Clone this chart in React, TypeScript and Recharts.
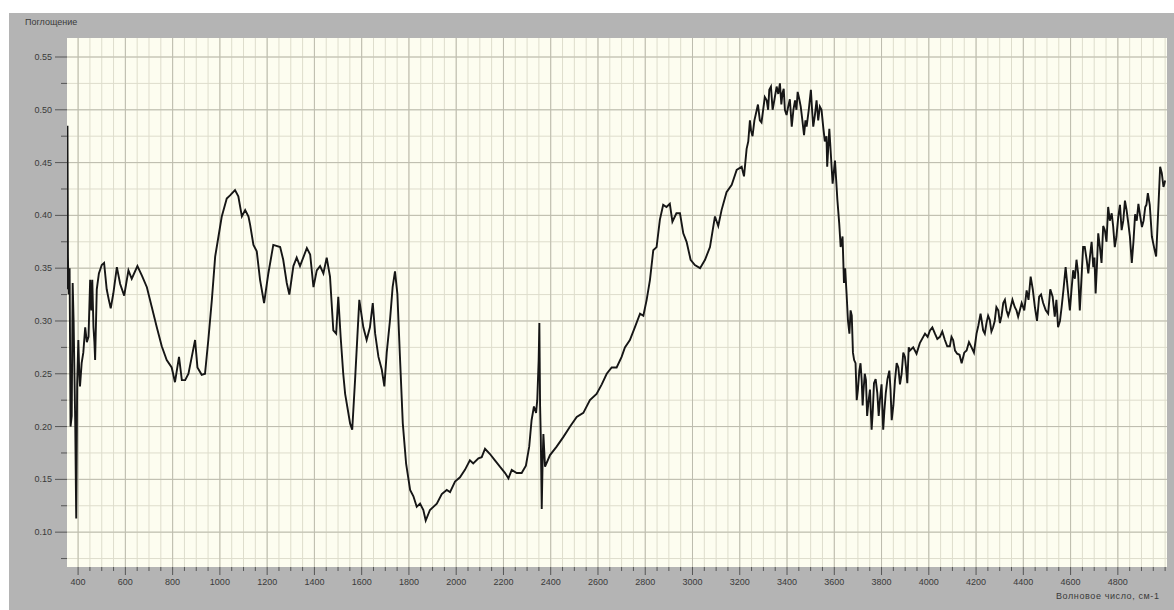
import React from 'react';
import { LineChart, Line, XAxis, YAxis, CartesianGrid } from 'recharts';

const wavenumbers = [
  353, 355, 357, 360, 364, 368, 373, 377, 381, 388,
  392, 396, 401, 405, 408, 415, 422, 430, 437, 444,
  451, 456, 460, 465, 469, 472, 479, 488, 500, 510,
  521, 530, 538, 549, 564, 578, 595, 613, 627, 651,
  670, 691, 712, 733, 754, 775, 796, 810, 827, 839,
  853, 867, 881, 895, 905, 923, 937, 951, 966, 980,
  994, 1008, 1029, 1043, 1064, 1078, 1093, 1107, 1121, 1128,
  1142, 1156, 1170, 1187, 1205, 1226, 1255, 1268, 1283, 1294,
  1311, 1325, 1339, 1368, 1382, 1396, 1410, 1424, 1438, 1452,
  1466, 1480, 1492, 1501, 1511, 1522, 1530, 1539, 1551, 1560,
  1572, 1590, 1607, 1621, 1635, 1647, 1657, 1671, 1685, 1696,
  1706, 1720, 1731, 1741, 1751, 1762, 1774, 1788, 1805, 1819,
  1833, 1847, 1861, 1871, 1889, 1918, 1939, 1960, 1974, 1995,
  2016, 2037, 2058, 2072, 2094, 2108, 2122, 2143, 2164, 2185,
  2207, 2221, 2235, 2256, 2277, 2295, 2309, 2319, 2329, 2338,
  2343, 2349, 2352, 2355, 2358, 2362, 2366, 2369, 2376, 2397,
  2425, 2453, 2482, 2510, 2538, 2566, 2594, 2616, 2637, 2658,
  2679, 2700, 2714, 2735, 2756, 2778, 2792, 2806, 2820, 2834,
  2848, 2862, 2876, 2890, 2904, 2915, 2932, 2947, 2961, 2975,
  2992, 3010, 3032, 3053, 3074, 3095, 3109, 3123, 3144, 3166,
  3187, 3208, 3218, 3229, 3243, 3254, 3269, 3285, 3299, 3314,
  3325, 3339, 3356, 3370, 3381, 3391, 3405, 3420, 3434, 3445,
  3458, 3472, 3483, 3501, 3511, 3525, 3539, 3553, 3567, 3570,
  3579, 3593, 3603, 3613, 3621, 3627, 3635, 3641, 3652, 3664,
  3674, 3684, 3695, 3706, 3716, 3723, 3734, 3744, 3758, 3768,
  3782, 3793, 3807, 3818, 3833, 3843, 3857, 3871, 3885, 3899,
  3909, 3920, 3934, 3948, 3962, 3984, 4005, 4026, 4047, 4068,
  4089, 4103, 4120, 4139, 4160, 4181, 4202, 4219, 4230, 4244,
  4258, 4272, 4286, 4301, 4315, 4329, 4343, 4364, 4378, 4393,
  4414, 4431, 4449, 4467, 4484, 4505, 4524, 4533, 4547, 4562,
  4579, 4597, 4611, 4625, 4639, 4653, 4668, 4682, 4696, 4706,
  4717, 4731, 4745, 4759, 4774, 4787, 4802, 4816, 4830, 4844,
  4859, 4873, 4887, 4902, 4916, 4927, 4944, 4962, 4979, 4993,
  5000,
];

const absorbance = [
  0.33, 0.485, 0.36, 0.325, 0.35, 0.2, 0.21, 0.336, 0.3, 0.2,
  0.113, 0.24, 0.282, 0.25, 0.238, 0.26, 0.27, 0.294, 0.28, 0.285,
  0.339, 0.31, 0.339, 0.294, 0.28, 0.263, 0.33, 0.345, 0.353, 0.355,
  0.33, 0.32, 0.312, 0.326, 0.351, 0.335, 0.324, 0.348, 0.34, 0.352,
  0.343, 0.332, 0.313, 0.294, 0.276, 0.263, 0.256, 0.242, 0.266, 0.244,
  0.244, 0.25, 0.266, 0.282, 0.256, 0.249, 0.25, 0.282, 0.32, 0.361,
  0.38, 0.399, 0.416, 0.419, 0.424, 0.418, 0.399, 0.405, 0.399, 0.391,
  0.372, 0.366, 0.339, 0.317, 0.345, 0.372, 0.37, 0.358, 0.336, 0.325,
  0.352, 0.36, 0.352, 0.369, 0.363, 0.332, 0.348, 0.352, 0.345, 0.36,
  0.342, 0.291, 0.288, 0.323, 0.285, 0.25, 0.231, 0.219, 0.203, 0.197,
  0.244, 0.32, 0.294, 0.282, 0.294, 0.317, 0.288, 0.266, 0.254, 0.238,
  0.27, 0.301, 0.332, 0.347, 0.326, 0.266, 0.203, 0.165, 0.14, 0.134,
  0.124, 0.127, 0.121, 0.111, 0.121, 0.127, 0.136, 0.14, 0.138, 0.148,
  0.152, 0.159, 0.168, 0.165, 0.17, 0.171, 0.179, 0.174, 0.168, 0.162,
  0.156, 0.151, 0.159, 0.156, 0.156, 0.163, 0.181, 0.206, 0.219, 0.213,
  0.225, 0.263, 0.298, 0.22, 0.19, 0.122, 0.17, 0.193, 0.162, 0.173,
  0.181, 0.19, 0.2, 0.209, 0.213, 0.225, 0.231, 0.24, 0.25, 0.256,
  0.256, 0.266, 0.275, 0.282, 0.294, 0.307, 0.305, 0.32, 0.339, 0.367,
  0.37, 0.396, 0.41, 0.408, 0.411, 0.394, 0.402, 0.402, 0.383, 0.375,
  0.358, 0.353, 0.35, 0.358, 0.37, 0.399, 0.39, 0.405, 0.422, 0.429,
  0.443, 0.446, 0.437, 0.463, 0.49, 0.475, 0.497, 0.49, 0.5, 0.509,
  0.519, 0.5, 0.522, 0.525, 0.516, 0.5, 0.503, 0.484, 0.509, 0.517,
  0.503, 0.476, 0.484, 0.519, 0.484, 0.509, 0.503, 0.484, 0.475, 0.446,
  0.482, 0.43, 0.452, 0.415, 0.392, 0.37, 0.38, 0.336, 0.326, 0.288,
  0.305, 0.263, 0.225, 0.253, 0.244, 0.232, 0.244, 0.222, 0.197, 0.241,
  0.232, 0.225, 0.197, 0.232, 0.253, 0.206, 0.244, 0.256, 0.25, 0.266,
  0.241, 0.272, 0.275, 0.269, 0.279, 0.288, 0.291, 0.288, 0.285, 0.282,
  0.276, 0.282, 0.269, 0.26, 0.272, 0.275, 0.288, 0.307, 0.291, 0.298,
  0.301, 0.294, 0.313, 0.298, 0.317, 0.31, 0.31, 0.313, 0.304, 0.317,
  0.329, 0.342, 0.313, 0.323, 0.317, 0.307, 0.323, 0.304, 0.294, 0.313,
  0.351, 0.31, 0.348, 0.358, 0.31, 0.37, 0.358, 0.361, 0.351, 0.326,
  0.383, 0.355, 0.386, 0.408, 0.402, 0.37, 0.399, 0.386, 0.414, 0.393,
  0.355, 0.401, 0.411, 0.389, 0.408, 0.421, 0.38, 0.361, 0.446, 0.427,
  0.433,
];

// fine-scale noise read from the thick, jagged parts of the trace
const noiseWavenumbers = [
  3236, 3248, 3262, 3277, 3292, 3306, 3320, 3332, 3347, 3363,
  3376, 3386, 3398, 3412, 3427, 3440, 3452, 3465, 3478, 3492,
  3506, 3518, 3532, 3546, 3560,
  3646, 3658, 3669, 3679, 3690, 3700, 3711, 3720, 3729, 3739,
  3751, 3763, 3775, 3788, 3800, 3812, 3825, 3838, 3850, 3864,
  3878, 3892, 3904, 3915,
  3995, 4015, 4036, 4057, 4078, 4096, 4111, 4130, 4150, 4170,
  4191, 4210, 4224, 4237, 4251, 4265, 4279, 4294, 4308, 4322,
  4336, 4354, 4371, 4385,
  4404, 4422, 4440, 4458, 4475, 4495, 4514, 4540, 4555, 4570,
  4588, 4604, 4618, 4632, 4646, 4660, 4675, 4689, 4701, 4711,
  4724, 4738, 4752, 4766, 4780, 4794, 4809, 4823, 4837, 4851,
  4866, 4880, 4894, 4909, 4921, 4935, 4953, 4970, 4986, 4997,
];

const noiseAbsorbance = [
  0.47, 0.48, 0.49, 0.505, 0.488, 0.512, 0.5, 0.522, 0.51, 0.515,
  0.505, 0.52, 0.495, 0.51, 0.5, 0.5, 0.51, 0.49, 0.49, 0.5,
  0.5, 0.495, 0.49, 0.5, 0.47,
  0.35, 0.3, 0.31, 0.27, 0.26, 0.235, 0.26, 0.22, 0.25, 0.21,
  0.235, 0.215, 0.245, 0.21, 0.24, 0.215, 0.245, 0.235, 0.22, 0.26,
  0.24, 0.27, 0.255, 0.275,
  0.285, 0.294, 0.283, 0.29, 0.276, 0.285, 0.272, 0.268, 0.27, 0.28,
  0.27, 0.296, 0.3, 0.288, 0.305, 0.29, 0.3, 0.31, 0.305, 0.32,
  0.305, 0.32, 0.31, 0.31,
  0.31, 0.32, 0.33, 0.3, 0.325, 0.31, 0.33, 0.32, 0.3, 0.33,
  0.33, 0.33, 0.34, 0.345, 0.34, 0.37, 0.345, 0.375, 0.36, 0.35,
  0.37, 0.39, 0.375, 0.395, 0.39, 0.38, 0.41, 0.395, 0.405, 0.38,
  0.375, 0.395, 0.4, 0.395, 0.41, 0.41, 0.37, 0.4, 0.44, 0.43,
];

const xMajorTicks = [400, 600, 800, 1000, 1200, 1400, 1600, 1800, 2000, 2200, 2400, 2600, 2800, 3000, 3200, 3400, 3600, 3800, 4000, 4200, 4400, 4600, 4800];
const yMajorTicks = [0.1, 0.15, 0.2, 0.25, 0.3, 0.35, 0.4, 0.45, 0.5, 0.55];

const xMinorTicks: number[] = [];
for (let v = 400; v <= 5000; v += 50) xMinorTicks.push(v);
const yMinorTicks: number[] = [];
for (let k = 3; k <= 22; k++) yMinorTicks.push(Math.round(k * 25) / 1000);

const X_DOMAIN: [number, number] = [353, 5008];
const Y_DOMAIN: [number, number] = [0.067, 0.568];

const data = [
  ...wavenumbers.map((w, i) => ({ w, a: absorbance[i] })),
  ...noiseWavenumbers.map((w, i) => ({ w, a: noiseAbsorbance[i] })),
].sort((p, q) => p.w - q.w);

const FONT = '"Liberation Sans", Arial, sans-serif';

const XTick = (props: any) => {
  const { x, y, payload } = props;
  const v = payload.value as number;
  const major = xMajorTicks.includes(v);
  const y0 = y - 8;
  return (
    <g>
      <line x1={x} x2={x} y1={y0} y2={y0 + (major ? 8 : 4)} stroke="#555" strokeWidth={1} />
      {major && (
        <text x={x} y={y0 + 18} textAnchor="middle" fontSize={9} fill="#3a3a3a" fontFamily={FONT}>
          {v}
        </text>
      )}
    </g>
  );
};

const YTick = (props: any) => {
  const { x, y, payload } = props;
  const v = payload.value as number;
  const major = Math.round(v * 1000) % 50 === 0;
  const x0 = x + 8;
  return (
    <g>
      <line x1={x0 - (major ? 12 : 6)} x2={x0} y1={y} y2={y} stroke="#555" strokeWidth={1} />
      {major && (
        <text x={x0 - 15} y={y + 3} textAnchor="end" fontSize={9} fill="#3a3a3a" fontFamily={FONT}>
          {v.toFixed(2)}
        </text>
      )}
    </g>
  );
};

export default function App() {
  return (
    <div style={{ position: 'absolute', left: 9, top: 13, width: 1165, height: 597, background: '#b4b4b4', overflow: 'hidden' }}>
      <div style={{ position: 'absolute', left: 16, top: 4, fontSize: 9, fontFamily: FONT, color: '#3a3a3a' }}>Поглощение</div>
      <div style={{ position: 'absolute', left: 1047, top: 578, fontSize: 9, fontFamily: FONT, color: '#3a3a3a', letterSpacing: 0.6 }}>Волновое число, см-1</div>
      <LineChart width={1165} height={597} data={data} margin={{ top: 25, right: 7, bottom: 23, left: 0 }}>
        <CartesianGrid
          fill="#fdfdf0"
          stroke="#deddcc"
          strokeWidth={1}
          verticalValues={xMinorTicks}
          horizontalValues={yMinorTicks}
        />
        <CartesianGrid
          stroke="#bdbcae"
          strokeWidth={1}
          verticalValues={xMajorTicks}
          horizontalValues={yMajorTicks}
        />
        <XAxis
          type="number"
          dataKey="w"
          domain={X_DOMAIN}
          allowDataOverflow
          ticks={xMinorTicks}
          interval={0}
          tick={<XTick />}
          tickLine={false}
          axisLine={false}
          tickSize={8}
          tickMargin={0}
          height={20}
        />
        <YAxis
          type="number"
          domain={Y_DOMAIN}
          allowDataOverflow
          ticks={yMinorTicks}
          interval={0}
          tick={<YTick />}
          tickLine={false}
          axisLine={false}
          tickSize={8}
          tickMargin={0}
          width={58}
        />
        <Line
          type="linear"
          dataKey="a"
          stroke="#161616"
          strokeWidth={1.9}
          dot={false}
          isAnimationActive={false}
        />
      </LineChart>
    </div>
  );
}
